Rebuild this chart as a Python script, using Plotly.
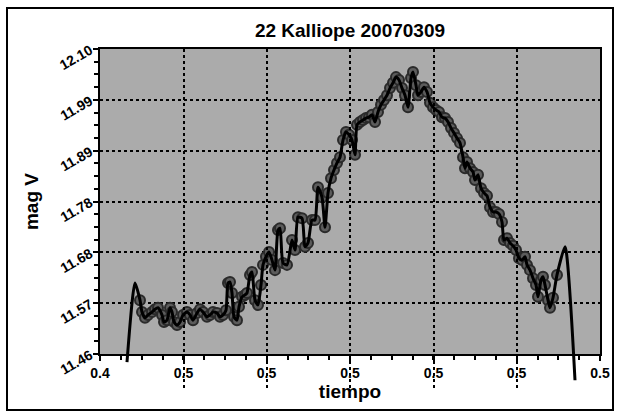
import numpy as np
import plotly.graph_objects as go

# ---- data ----
tiempo = [0.4570, 0.4574, 0.4580, 0.4586, 0.4594, 0.4600, 0.4606, 0.4614, 0.4618, 0.4624,
          0.4630, 0.4634, 0.4638, 0.4644, 0.4650, 0.4656, 0.4664, 0.4670, 0.4676, 0.4684,
          0.4690, 0.4696, 0.4704, 0.4710, 0.4716, 0.4724, 0.4730, 0.4736, 0.4742, 0.4746,
          0.4750, 0.4754, 0.4758, 0.4764, 0.4768, 0.4774, 0.4780, 0.4784, 0.4790, 0.4794,
          0.4800, 0.4806, 0.4812, 0.4816, 0.4822, 0.4828, 0.4834, 0.4840, 0.4846, 0.4850,
          0.4856, 0.4864, 0.4874, 0.4880, 0.4886, 0.4894, 0.4900, 0.4906, 0.4914, 0.4920,
          0.4926, 0.4934, 0.4940, 0.4946, 0.4952, 0.4958, 0.4964, 0.4970, 0.4976, 0.4982,
          0.4988, 0.4994, 0.5000, 0.5004, 0.5010, 0.5016, 0.5022, 0.5028, 0.5034, 0.5040,
          0.5046, 0.5052, 0.5058, 0.5064, 0.5070, 0.5076, 0.5082, 0.5088, 0.5094, 0.5100,
          0.5106, 0.5112, 0.5116, 0.5122, 0.5126, 0.5132, 0.5138, 0.5144, 0.5150, 0.5156,
          0.5162, 0.5168, 0.5174, 0.5180, 0.5186, 0.5192, 0.5198, 0.5204, 0.5210, 0.5216,
          0.5220, 0.5224, 0.5230, 0.5236, 0.5240, 0.5246, 0.5252, 0.5258, 0.5264, 0.5270,
          0.5276, 0.5282, 0.5288, 0.5294, 0.5298, 0.5304, 0.5310, 0.5316, 0.5322, 0.5328,
          0.5334, 0.5340, 0.5344, 0.5350, 0.5356, 0.5362, 0.5366, 0.5372, 0.5376, 0.5380,
          0.5386, 0.5390, 0.5396, 0.5404]
mag_v = [11.573, 11.548, 11.536, 11.542, 11.548, 11.554, 11.557, 11.542, 11.527, 11.531,
         11.557, 11.548, 11.527, 11.521, 11.527, 11.542, 11.548, 11.542, 11.531, 11.546,
         11.554, 11.548, 11.538, 11.542, 11.548, 11.546, 11.538, 11.542, 11.552, 11.609,
         11.611, 11.588, 11.538, 11.531, 11.559, 11.580, 11.584, 11.588, 11.626, 11.632,
         11.573, 11.563, 11.605, 11.647, 11.664, 11.674, 11.657, 11.636, 11.720, 11.724,
         11.651, 11.647, 11.699, 11.678, 11.747, 11.745, 11.685, 11.693, 11.741, 11.741,
         11.810, 11.789, 11.726, 11.798, 11.829, 11.846, 11.861, 11.873, 11.909, 11.926,
         11.920, 11.909, 11.878, 11.941, 11.947, 11.951, 11.955, 11.957, 11.962, 11.947,
         11.968, 11.983, 11.993, 12.003, 12.018, 12.029, 12.041, 12.035, 12.018, 12.003,
         11.978, 12.039, 12.052, 12.024, 12.003, 12.010, 12.020, 12.010, 11.987, 11.978,
         11.972, 11.968, 11.957, 11.955, 11.947, 11.934, 11.924, 11.913, 11.903, 11.873,
         11.850, 11.863, 11.850, 11.842, 11.825, 11.836, 11.808, 11.798, 11.792, 11.768,
         11.758, 11.758, 11.754, 11.737, 11.699, 11.703, 11.693, 11.687, 11.678, 11.661,
         11.657, 11.664, 11.647, 11.636, 11.619, 11.605, 11.580, 11.615, 11.622, 11.605,
         11.573, 11.557, 11.578, 11.626]

# fitted curve continues beyond the observed points at both ends
curve_head_t = [0.4544, 0.4560]
curve_head_mag = [11.443, 11.609]
curve_tail_t = [0.5420, 0.5440]
curve_tail_mag = [11.685, 11.405]

x_tick_vals = [0.449, 0.4657, 0.4823, 0.499, 0.5157, 0.5323, 0.549]
x_tick_text = ["0.4", "0.5", "0.5", "0.5", "0.5", "0.5", "0.5"]
y_tick_vals = [11.46, 11.5667, 11.6733, 11.78, 11.8867, 11.9933, 12.10]
y_tick_text = ["11.46", "11.57", "11.68", "11.78", "11.89", "11.99", "12.10"]

title_text = "22 Kalliope 20070309"
x_title = "tiempo"
y_title = "mag V"

# ---- layout geometry ----
W, H = 620, 414
ML, MR, MT, MB = 100, 20, 49, 25
plot_h = 305
paper_h = H - MT - MB
y_dom0 = (paper_h - plot_h) / paper_h
x_range = [x_tick_vals[0], x_tick_vals[-1]]
y_range = [y_tick_vals[0], y_tick_vals[-1]]
y2_low = y_range[0] - (y_range[1] - y_range[0]) * (paper_h - plot_h) / plot_h

FONT = "Liberation Sans, Arial, sans-serif"

fig = go.Figure()
fig.add_trace(go.Scatter(
    x=tiempo, y=mag_v, mode="markers", xaxis="x", yaxis="y",
    marker=dict(size=10, color="#5c5c5c", line=dict(color="#2a2a2a", width=2)),
    showlegend=False, hoverinfo="skip"))
fig.add_trace(go.Scatter(
    x=curve_head_t + tiempo + curve_tail_t,
    y=curve_head_mag + mag_v + curve_tail_mag,
    mode="lines", xaxis="x", yaxis="y2",
    line=dict(color="black", width=3, shape="spline", smoothing=0.6),
    showlegend=False, hoverinfo="skip"))

minor_x = np.linspace(x_range[0], x_range[1], 25)
minor_y = np.linspace(y_range[0], y_range[1], 25)

axis_common = dict(
    showline=True, linecolor="black", linewidth=2, mirror=True,
    ticks="outside", ticklen=5, tickwidth=1.5, tickcolor="black",
    showgrid=True, gridcolor="black", gridwidth=1.5, griddash="dot",
    zeroline=False, automargin=False,
    tickfont=dict(family=FONT, size=14, color="black", weight="bold"),
)

fig.update_layout(
    width=W, height=H,
    margin=dict(l=ML, r=MR, t=MT, b=MB),
    paper_bgcolor="white", plot_bgcolor="rgba(0,0,0,0)",
    title=dict(text=title_text, x=(ML + 250) / W, xref="container", y=1 - 30 / H,
               yref="container", xanchor="center", yanchor="middle",
               font=dict(family=FONT, size=19, color="black", weight="bold")),
    xaxis=dict(range=x_range, tickmode="array", tickvals=x_tick_vals, ticktext=x_tick_text,
               anchor="y", domain=[0, 1],
               minor=dict(tickvals=list(minor_x), ticks="outside", ticklen=4,
                          tickcolor="black", tickwidth=1.5, showgrid=False),
               title=dict(text=x_title, standoff=3,
                          font=dict(family=FONT, size=19, color="black", weight="bold")),
               **axis_common),
    yaxis=dict(range=y_range, tickmode="array", tickvals=y_tick_vals, ticktext=y_tick_text,
               anchor="x", domain=[y_dom0, 1], tickangle=-30,
               minor=dict(tickvals=list(minor_y), ticks="outside", ticklen=4,
                          tickcolor="black", tickwidth=1.5, showgrid=False),
               title=dict(text=y_title, standoff=13,
                          font=dict(family=FONT, size=19, color="black", weight="bold")),
               **axis_common),
    yaxis2=dict(range=[y2_low, y_range[1]], domain=[0, 1], anchor="x", visible=False,
                showgrid=False, zeroline=False),
    shapes=[
        dict(type="rect", xref="x domain", yref="y domain", x0=0, x1=1, y0=0, y1=1,
             fillcolor="#ababab", line=dict(width=0), layer="below"),
        dict(type="rect", xref="paper", yref="paper",
             x0=(7 - ML) / (W - ML - MR), x1=(613 - ML) / (W - ML - MR),
             y0=(H - MB - 410) / paper_h, y1=(H - MB - 8) / paper_h,
             line=dict(color="black", width=2), fillcolor="rgba(0,0,0,0)", layer="above"),
    ],
)

fig.write_html("out.html", config={"displayModeBar": False},
               post_script="document.body.style.margin='0';")
